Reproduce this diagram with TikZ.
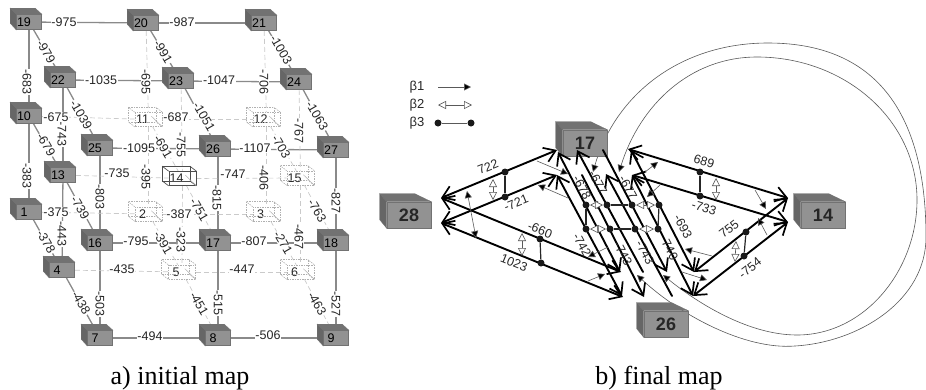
\documentclass[tikz,border=0pt]{standalone}
\usepackage{fontspec}
\setmainfont{Liberation Sans}
\newfontfamily\capfont{Liberation Serif}
\usetikzlibrary{arrows.meta}
\pgfdeclarelayer{bg}
\pgfsetlayers{bg,main}
\definecolor{cf}{HTML}{929292}
\definecolor{ct}{HTML}{727272}
\definecolor{cs}{HTML}{666666}
\definecolor{ce}{HTML}{8A8A8A}
\definecolor{cd}{HTML}{CACACA}
\definecolor{cw}{HTML}{B0B0B0}
\definecolor{tx}{HTML}{262626}
\tikzset{
 lab/.style={font=\fontsize{12.5}{13}\selectfont,text=tx,fill=white,inner sep=0.6pt},
 rlab/.style={font=\fontsize{12.5}{13}\selectfont,text=tx,inner sep=0pt},
 cfront/.style={draw=ct,line width=0.6pt,fill=cf,inner sep=0pt,minimum width=25pt,minimum height=15pt,font=\fontsize{12.5}{13}\selectfont,text=black},
 bfront/.style={draw=ct,line width=0.6pt,fill=cf,inner sep=0pt,minimum width=44pt,minimum height=26pt,font=\fontsize{18}{19}\selectfont\bfseries,text=tx},
 wfront/.style={draw=cw,line width=0.6pt,dash pattern=on 1.5pt off 1pt,inner sep=0pt,minimum width=27pt,minimum height=14pt,font=\fontsize{12.5}{13}\selectfont,text=tx},
 kfront/.style={draw=black!70,line width=0.7pt,inner sep=0pt,minimum width=27pt,minimum height=14pt,font=\fontsize{12.5}{13}\selectfont,text=tx},
 wback/.style={draw=cw,line width=0.6pt,dash pattern=on 1.5pt off 1pt},
 kback/.style={draw=black!70,line width=0.7pt},
 sedge/.style={draw=ce,line width=1.3pt},
 dedge/.style={draw=cd,line width=0.7pt,dash pattern=on 5pt off 3pt},
 curveline/.style={draw=black!65,line width=0.6pt},
 barb/.tip={Straight Barb[length=11pt,width=15pt,line width=1.7pt]},
 big/.style={draw=black,line width=1.9pt,line cap=round},
 bothheads/.style={big,{barb}-{barb}},
 starthead/.style={big,{barb}-},
 endhead/.style={big,-{barb}},
 thinarrow/.style={draw=black!65,line width=0.6pt,-{Triangle[length=7pt,width=7pt,fill=black]}},
 thinboth/.style={draw=black!65,line width=0.6pt,{Triangle[length=7pt,width=7pt,fill=black]}-{Triangle[length=7pt,width=7pt,fill=black]}},
 openboth/.style={draw=black!65,line width=0.6pt,{Triangle[open,length=8pt,width=8pt,fill=white]}-{Triangle[open,length=8pt,width=8pt,fill=white]}},
 dotn/.style={circle,fill=black!90,inner sep=0pt,minimum size=7pt},
 dlink/.style={draw=black!85,line width=1.2pt},
 captext/.style={font=\capfont\fontsize{26}{28}\selectfont,text=black,anchor=base,inner sep=0pt},
}
\newcommand\smallcube[4]{%
 \node[cfront] (n#1) at (#2,#3) {\makebox[25pt][c]{#4\hspace*{10pt}}};
 \path[fill=ct,draw=ct,line width=0.4pt] (n#1.north west) -- ++(-6,-6) -- ++(25,0) -- (n#1.north east) -- cycle;
 \path[fill=cs,draw=ct,line width=0.4pt] (n#1.north west) -- ++(-6,-6) -- ++(0,15) -- (n#1.south west) -- cycle;
}
\newcommand\bigcube[4]{%
 \node[bfront] (R#1) at (#2,#3) {#4};
 \path[fill=ct,draw=ct,line width=0.4pt] (R#1.north west) -- ++(-7,-8) -- ++(35,0) -- (R#1.north east) -- cycle;
 \path[fill=cs,draw=ct,line width=0.4pt] (R#1.north west) -- ++(-7,-8) -- ++(0,26) -- (R#1.south west) -- cycle;
}
\newcommand\wirecube[6][wfront]{%
 \node[#1] (n#2) at (#3,#4) {\makebox[27pt][c]{#5\hspace*{12pt}}};
 \path[#6] ([shift={(-6.5,-5)}]n#2.north west) rectangle ([shift={(-6.5,-5)}]n#2.south east);
 \path[#6] (n#2.north west) -- +(-6.5,-5) (n#2.north east) -- +(-6.5,-5) (n#2.south west) -- +(-6.5,-5) (n#2.south east) -- +(-6.5,-5);
 \path[draw=cw,line width=0.5pt] ([shift={(-11,4)}]n#2.north east) -- (n#2.south east);
}
\begin{document}
\begin{tikzpicture}[x=1pt,y=-1pt]
\useasboundingbox (0,0) rectangle (926,389);
% --- left map: cubes
\foreach \i/\x/\y in {19/29/22,20/146/23,21/264/23,22/63/80,23/181/81,24/299/82,10/29/116,25/100/148,26/218/149,27/336/150,13/63/175,1/29/212,16/100/243,17/218/243,18/336/243,4/62/270,7/100/338,8/218/338,9/336/338}
 {\smallcube{\i}{\x}{\y}{\i}}
\foreach \i/\x/\y in {11/148.5/119.5,12/266.5/119.5,15/300.5/178,2/148.5/214,3/266.5/214,5/182/272,6/300.5/272}
 {\wirecube{\i}{\x}{\y}{\i}{wback}}
\wirecube[kfront]{14}{182.5}{178.5}{14}{kback}
% --- left map: edges
\begin{pgfonlayer}{bg}
\foreach \a/\b in {19/20,20/21,22/23,23/24,25/26,26/27,16/17,17/18,7/8,8/9,19/22,22/25,20/23,23/26,21/24,24/27,10/13,13/16,1/4,4/7,19/10,10/1,22/13,13/4,25/16,16/7,26/17,17/8,27/18,18/9}
 {\draw[sedge] (n\a) -- (n\b);}
\foreach \a/\b in {10/11,11/12,13/14,14/15,1/2,2/3,4/5,5/6,20/11,11/2,21/12,12/3,23/14,14/5,24/15,15/6,11/14,14/17,12/15,15/18,2/5,5/8,3/6,6/9}
 {\draw[dedge] (n\a) -- (n\b);}
\end{pgfonlayer}
% --- left map: labels
\foreach \x/\y/\r/\t in {64/22/0/-975,182/22/0/-987,46/52/-60/-979,27/82/-90/-683,101/80/0/-1035,146/82/-90/-695,219/80/0/-1047,264/82/-90/-706,163/52/-60/-991,281/50/-60/-1003,62/134/-90/-743,81/115/-60/-1039,56/117/0/-675,176/117/0/-687,181/145/-90/-755,204/117/-60/-1051,299/131/-90/-767,317/116/-60/-1063,46/145/-60/-679,27/176/-90/-383,163/147/-60/-691,139/148/0/-1095,255/148/0/-1107,281/147/-60/-703,117/173/0/-735,146/177/-90/-395,233/174/0/-747,264/178/-90/-406,100/197/-90/-803,217/198/-90/-815,336/201/-90/-827,80/208/-60/-739,56/212/0/-375,179/214/0/-387,199/210/-60/-751,317/211/-60/-763,46/242/-60/-378,62/234/-90/-443,136/241/0/-795,163/243/-60/-391,181/240/-90/-323,254/241/0/-807,283/243/-60/-271,299/237/-90/-467,122/269/0/-435,242/269/0/-447,100/304/-90/-503,218/303/-90/-515,336/304/-90/-527,81/303/-60/-438,199/304/-60/-451,317/304/-60/-463,150/336/0/-494,268/335/0/-506}
 {\node[lab,rotate=\r] (L\x-\y) at (\x,\y) {\t};}
\node[captext] (capa) at (180,384) {a) initial map};
\node[captext] (capb) at (659,384) {b) final map};
% --- legend
\node[rlab,font=\fontsize{13}{14}\selectfont] (k1) at (417,87) {β1};
\node[rlab,font=\fontsize{13}{14}\selectfont] (k2) at (417,105) {β2};
\node[rlab,font=\fontsize{13}{14}\selectfont] (k3) at (417,123) {β3};
\coordinate (k1a) at (438,87); \coordinate (k1b) at (471,87);
\coordinate (k2a) at (438,105); \coordinate (k2b) at (472,105);
\draw[thinarrow] (k1a) -- (k1b);
\draw[openboth] (k2a) -- (k2b);
\node[dotn] (k3a) at (438,123) {}; \node[dotn] (k3b) at (471,123) {};
\draw[draw=black!65,line width=0.6pt] (k3a) -- (k3b);
% --- right map: loops
\begin{pgfonlayer}{bg}
\coordinate (o1) at (593,172); \coordinate (o2) at (637,275);
\coordinate (i1) at (619,172); \coordinate (i2) at (663,275);
\draw[curveline,{Triangle[length=7pt,width=7pt,fill=black]}-{Triangle[length=7pt,width=7pt,fill=black]}] (o2) .. controls (680,315) and (745,350) .. (795,346) .. controls (860,342) and (926,300) .. (926,237) .. controls (926,125) and (885,43) .. (768,43) .. controls (680,43) and (615,95) .. (o1);
\draw[curveline,{Triangle[length=7pt,width=7pt,fill=black]}-{Triangle[length=7pt,width=7pt,fill=black]}] (i2) .. controls (700,305) and (750,335) .. (797,335) .. controls (865,335) and (917,270) .. (917,200) .. controls (917,120) and (845,57) .. (757,57) .. controls (690,57) and (640,105) .. (i1);
\end{pgfonlayer}
% --- right map: big cubes
\bigcube{28}{409}{215}{28}
\bigcube{17}{585}{143}{17}
\bigcube{14}{823}{215}{14}
\bigcube{26}{666}{324}{26}
% --- right map: apex coordinates
\foreach \n/\x/\y in {A1/441/198,A2/441/223,B1/557/150,B2/557/175,C1/621/272,C2/623/297,D1/558/152,D2/577/150,D3/603/150,D4/631/150,E1/557/175,E2/582/175,E3/606/174,E4/632/175,F1/620/272,F2/643/272,F3/667/272,F4/694/272,G1/622/296,G2/644/297,G3/672/296,G4/693/296,H1/788/198,H2/788/222,P1/628/149,P2/632/175}
 {\coordinate (\n) at (\x,\y);}
% left wing
\draw[bothheads] (A1) -- (B1);
\draw[bothheads] (A2) -- (B2);
\draw[bothheads] (A1) -- (C1);
\draw[bothheads] (A2) -- (C2);
% middle steep lines
\draw[bothheads] (D1) -- (F1);
\draw[bothheads] (E1) -- (G1);
\draw[starthead] (D2) -- (F2);
\draw[endhead] (E2) -- (G2);
\draw[endhead] (D3) -- (F3);
\draw[starthead] (E3) -- (G3);
\draw[bothheads] (D4) -- (F4);
\draw[bothheads] (E4) -- (G4);
% right wing
\draw[bothheads] (P1) -- (H1);
\draw[bothheads] (P2) -- (H2);
\draw[bothheads] (F4) -- (H1);
\draw[bothheads] (G4) -- (H2);
% beta-3 dots
\foreach \n/\x/\y in {a/505/172,b/505/197,c/540/239,d/541/263,e/700/172,f/700/196,g/746/232,h/744/256,m1/586/205,m2/607/205,m3/632/205,m4/659/205,p1/586/229,p2/610/229,p3/635/229,p4/658/229}
 {\node[dotn] (d\n) at (\x,\y) {};}
\foreach \a/\b in {a/b,c/d,e/f,g/h,m1/p1,m4/p4,m2/m3,p2/p3}
 {\draw[dlink] (d\a) -- (d\b);}
% beta-2 arrows
\foreach \i/\x/\y/\u/\v in {1/493/179/493/200,2/522/233/522/256,3/716/178/716/200,4/736/241/735/262,5/590/205/603/205,6/636/205/655/205,7/590/229/606/229,8/639/229/654/229}
 {\coordinate (ba\i) at (\x,\y); \coordinate (bb\i) at (\u,\v); \draw[openboth] (ba\i) -- (bb\i);}
% beta-1 arrows
\foreach \i/\x/\y/\u/\v in {1/537/161/568/174,2/568/198/538/185,3/608/247/588/257,4/588/281/605/274,5/645/172/658/162,6/660/185/647/197,7/755/190/766/209,8/767/235/758/218,9/712/256/685/249,10/682/272/707/280}
 {\coordinate (ta\i) at (\x,\y); \coordinate (tb\i) at (\u,\v); \draw[thinarrow] (ta\i) -- (tb\i);}
\coordinate (tc1) at (467,191); \coordinate (tc2) at (476,238);
\draw[thinboth] (tc1) -- (tc2);
% right labels
\foreach \x/\y/\r/\t in {488/167/22/722,516/203/22/-721,540/230/-22/-660,514/263/-22/1023,704/161/-17/689,704/208/-17/-733,729/229/38/755,750/268/38/-754,582/188/-62/-678,598/183/-62/-677,628/188/-62/-677,683/227/-62/-693,582/245/-62/-742,623/254/-62/-743,645/253/-62/-743,670/250/-62/740}
 {\node[rlab,rotate=\r] (Q\x) at (\x,\y) {\t};}
\end{tikzpicture}
\end{document}
